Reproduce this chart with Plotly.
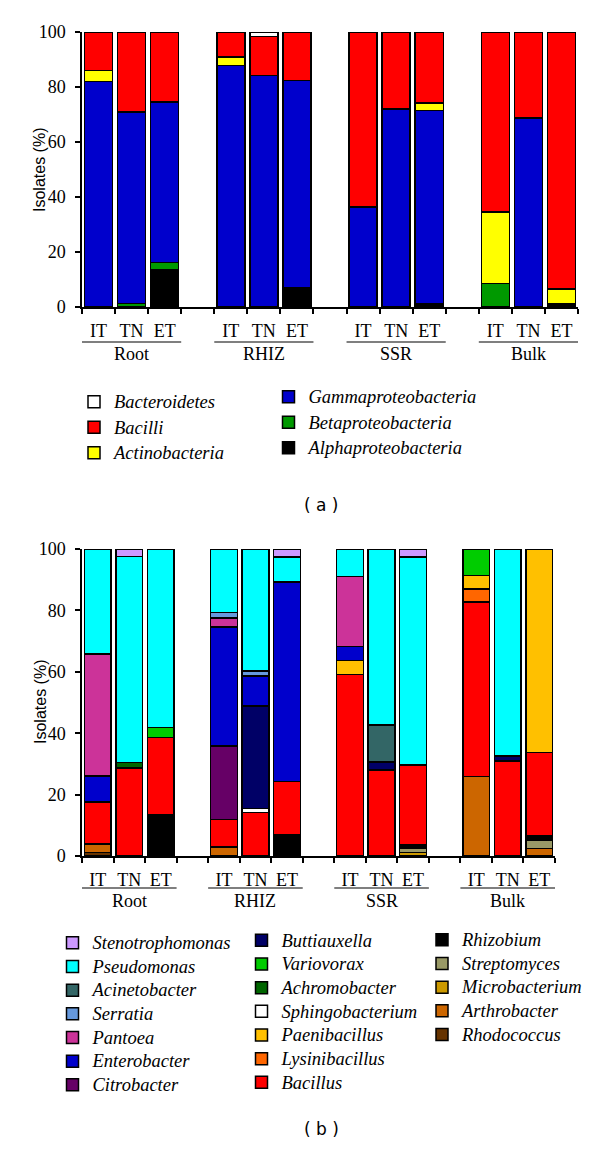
import plotly.graph_objects as go

# ---------------- data ----------------
sites = ["Root", "RHIZ", "SSR", "Bulk"]
treatments = ["IT", "TN", "ET"]
y_ticks = [0, 20, 40, 60, 80, 100]

# Panel (a): classes, stacking order bottom -> top (values in %, order Root IT/TN/ET, RHIZ..., SSR..., Bulk...)
alphaproteobacteria = [0, 0, 13.6, 0, 0, 6.9, 0, 0, 1.2, 0, 0, 1.2]
betaproteobacteria = [0, 1.2, 2.6, 0, 0, 0, 0, 0, 0, 8.5, 0, 0]
gammaproteobacteria = [82.0, 69.7, 58.3, 87.9, 84.1, 75.4, 36.4, 72.0, 70.3, 0, 68.8, 0]
actinobacteria = [4.0, 0, 0, 3.0, 0, 0, 0, 0, 2.7, 26.0, 0, 5.3]
bacilli = [14.0, 29.1, 25.5, 9.1, 14.3, 17.7, 63.6, 28.0, 25.8, 65.5, 31.2, 93.5]
bacteroidetes = [0, 0, 0, 0, 1.6, 0, 0, 0, 0, 0, 0, 0]

# Panel (b): genera, stacking order bottom -> top
rhodococcus = [1.1, 0, 0, 0, 0, 0, 0, 0, 0, 0, 0, 0]
arthrobacter = [2.8, 0, 0, 2.9, 0, 0, 0, 0, 0, 25.9, 0, 2.4]
microbacterium = [0, 0, 0, 0, 0, 0, 0, 0, 1.2, 0, 0, 0]
streptomyces = [0, 0, 0, 0, 0, 0, 0, 0, 1.2, 0, 0, 2.7]
rhizobium = [0, 0, 13.5, 0, 0, 6.9, 0, 0, 1.4, 0, 0, 1.5]
bacillus = [13.7, 28.7, 25.1, 9.0, 14.1, 17.4, 59.1, 28.0, 25.8, 56.8, 31.0, 27.1]
lysinibacillus = [0, 0, 0, 0, 0, 0, 0, 0, 0, 4.2, 0, 0]
paenibacillus = [0, 0, 0, 0, 0, 0, 4.6, 0, 0, 4.5, 0, 66.3]
sphingobacterium = [0, 0, 0, 0, 1.4, 0, 0, 0, 0, 0, 0, 0]
achromobacter = [0, 1.7, 0, 0, 0, 0, 0, 0, 0, 0, 0, 0]
variovorax = [0, 0, 3.2, 0, 0, 0, 0, 0, 0, 8.6, 0, 0]
buttiauxella = [0, 0, 0, 0, 33.4, 0, 0, 2.7, 0, 0, 1.5, 0]
citrobacter = [0, 0, 0, 23.9, 0, 0, 0, 0, 0, 0, 0, 0]
enterobacter = [8.4, 0, 0, 38.8, 9.8, 65.0, 4.5, 0, 0, 0, 0, 0]
pantoea = [39.8, 0, 0, 2.9, 0, 0, 22.9, 0, 0, 0, 0, 0]
serratia = [0, 0, 0, 1.8, 1.6, 0, 0, 0, 0, 0, 0, 0]
acinetobacter = [0, 0, 0, 0, 0, 0, 0, 12.0, 0, 0, 0, 0]
pseudomonas = [34.2, 67.2, 58.2, 20.7, 39.7, 8.1, 8.9, 57.3, 67.8, 0, 67.5, 0]
stenotrophomonas = [0, 2.4, 0, 0, 0, 2.6, 0, 0, 2.6, 0, 0, 0]

# ---------------- styling ----------------
# page is 600x1149; the html body has an 8px margin, so the figure is 584x1133 at (8, 8)
OFF = 8
W, H = 600 - 2 * OFF, 1149 - 2 * OFF
SERIF = "Liberation Serif, Times New Roman, serif"
SANS = "Liberation Sans, Arial, sans-serif"
LEGEND_TEXT_PX = 18.5


def fx(px):
    return (px - OFF) / W


def fy(py):
    return 1 - (py - OFF) / H


a_series = [
    ("Alphaproteobacteria", alphaproteobacteria, "#000000", "legend2"),
    ("Betaproteobacteria", betaproteobacteria, "#009900", "legend2"),
    ("Gammaproteobacteria", gammaproteobacteria, "#0000CC", "legend2"),
    ("Actinobacteria", actinobacteria, "#FFFF00", "legend"),
    ("Bacilli", bacilli, "#FF0000", "legend"),
    ("Bacteroidetes", bacteroidetes, "#FFFFFF", "legend"),
]
b_series = [
    ("Rhodococcus", rhodococcus, "#663300", "legend5"),
    ("Arthrobacter", arthrobacter, "#CC6600", "legend5"),
    ("Microbacterium", microbacterium, "#CC9900", "legend5"),
    ("Streptomyces", streptomyces, "#999966", "legend5"),
    ("Rhizobium", rhizobium, "#000000", "legend5"),
    ("Bacillus", bacillus, "#FF0000", "legend4"),
    ("Lysinibacillus", lysinibacillus, "#FF6600", "legend4"),
    ("Paenibacillus", paenibacillus, "#FFC000", "legend4"),
    ("Sphingobacterium", sphingobacterium, "#FFFFFF", "legend4"),
    ("Achromobacter", achromobacter, "#006600", "legend4"),
    ("Variovorax", variovorax, "#00CC00", "legend4"),
    ("Buttiauxella", buttiauxella, "#000066", "legend4"),
    ("Citrobacter", citrobacter, "#660066", "legend3"),
    ("Enterobacter", enterobacter, "#0000CC", "legend3"),
    ("Pantoea", pantoea, "#CC3399", "legend3"),
    ("Serratia", serratia, "#6699DD", "legend3"),
    ("Acinetobacter", acinetobacter, "#336666", "legend3"),
    ("Pseudomonas", pseudomonas, "#00FFFF", "legend3"),
    ("Stenotrophomonas", stenotrophomonas, "#CC99FF", "legend3"),
]

GROUP_STEP = len(treatments) + 1
positions = [g * GROUP_STEP + s for g in range(len(sites)) for s in range(len(treatments))]
tick_text = [t for _ in sites for t in treatments]
x_range = [-0.5, positions[-1] + 0.5]
boundaries = [x_range[0] + i for i in range(int(x_range[1] - x_range[0]) + 1)]

fig = go.Figure()


def add_series(series, xa, ya):
    for name, vals, color, leg in series:
        fig.add_trace(go.Bar(
            x=positions, y=[v if v else None for v in vals],
            name=f'<span style="font-size:{LEGEND_TEXT_PX}px">{name}</span>',
            width=0.85, xaxis=xa, yaxis=ya, legend=leg,
            marker=dict(color=color, line=dict(color="black", width=1.5)),
        ))


add_series(a_series, "x", "y")
add_series(b_series, "x2", "y2")


def xaxis_cfg(right_px, anchor):
    return dict(
        domain=[fx(82), fx(right_px)], range=x_range, anchor=anchor, showgrid=False, zeroline=False,
        showline=True, linecolor="black", linewidth=1.5,
        tickmode="array", tickvals=positions, ticktext=tick_text, ticks="",
        tickfont=dict(family=SERIF, size=18, color="black"), ticklabelstandoff=7,
        minor=dict(tickmode="array", tickvals=boundaries, ticks="outside", ticklen=5,
                   tickwidth=1.5, tickcolor="black", showgrid=False),
        fixedrange=True,
    )


def yaxis_cfg(top_px, bottom_px, anchor):
    return dict(
        domain=[fy(bottom_px), fy(top_px)], range=[0, 100], anchor=anchor,
        tickmode="array", tickvals=y_ticks, ticks="outside", ticklen=5, tickwidth=1.5,
        tickcolor="black", showline=True, linecolor="black", linewidth=1.5,
        showgrid=False, zeroline=False, tickfont=dict(family=SERIF, size=18, color="black"),
        ticklabelstandoff=6, fixedrange=True,
    )


annotations = []
shapes = []
panels = [("x", 342, 353, "( a )", 505, 170), ("x2", 888, 900, "( b )", None, 702)]
for xref, line_px, label_px, caption, cap_px, ytitle_px in panels:
    for g, site in enumerate(sites):
        x0 = positions[g * len(treatments)] - 0.5
        x1 = positions[g * len(treatments) + len(treatments) - 1] + 0.5
        shapes.append(dict(type="line", xref=xref, yref="paper", x0=x0, x1=x1,
                           y0=fy(line_px), y1=fy(line_px), line=dict(color="black", width=1.2)))
        annotations.append(dict(text=site, xref=xref, yref="paper", x=(x0 + x1) / 2,
                                y=fy(label_px + 1), showarrow=False, xanchor="center", yanchor="middle",
                                font=dict(family=SERIF, size=18, color="black")))
    if cap_px is None:
        cap = dict(y=0, yanchor="bottom")
    else:
        cap = dict(y=fy(cap_px), yanchor="middle")
    annotations.append(dict(text=caption, xref="paper", yref="paper", x=fx(321),
                            showarrow=False, xanchor="center",
                            font=dict(family="DejaVu Sans", size=17, color="black"), **cap))
    annotations.append(dict(text="Isolates (%)", xref="paper", yref="paper", x=fx(40),
                            y=fy(ytitle_px), textangle=-90, showarrow=False,
                            xanchor="center", yanchor="middle",
                            font=dict(family=SANS, size=16, color="black")))

leg_common = dict(bgcolor="rgba(0,0,0,0)", borderwidth=0, xanchor="left", yanchor="top",
                  traceorder="reversed", orientation="v", itemclick=False, itemdoubleclick=False)
font_a = dict(family=SERIF, size=17.3, style="italic", color="black")
font_b = dict(family=SERIF, size=15.9, style="italic", color="black")
fig.update_layout(
    width=W, height=H, margin=dict(l=0, r=0, t=0, b=0, autoexpand=False),
    paper_bgcolor="white", plot_bgcolor="white", barmode="stack", showlegend=True,
    xaxis=xaxis_cfg(578, "y"), yaxis=yaxis_cfg(32, 307, "x"),
    xaxis2=xaxis_cfg(555, "y2"), yaxis2=yaxis_cfg(549, 856, "x2"),
    legend=dict(x=fx(74), y=fy(384), font=font_a, **leg_common),
    legend2=dict(x=fx(268.5), y=fy(379), font=font_a, **leg_common),
    legend3=dict(x=fx(52.5), y=fy(926), font=font_b, **leg_common),
    legend4=dict(x=fx(241.5), y=fy(923.5), font=font_b, **leg_common),
    legend5=dict(x=fx(422), y=fy(923), font=font_b, **leg_common),
    annotations=annotations, shapes=shapes,
)

fig.write_html("out.html")
